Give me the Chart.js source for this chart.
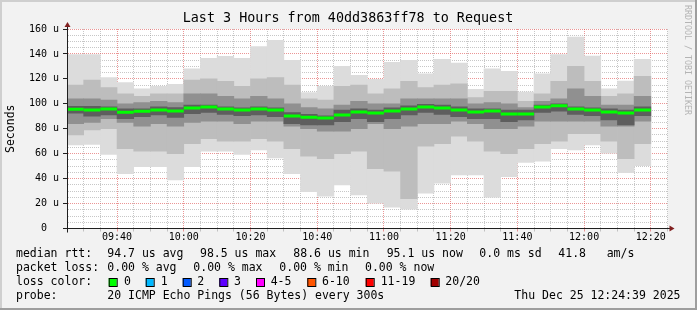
<!DOCTYPE html>
<html><head><meta charset="utf-8">
<script src="https://cdn.jsdelivr.net/npm/chart.js@4.4.1/dist/chart.umd.min.js"></script>
<style>html,body{margin:0;padding:0;background:#f2f2f2;}canvas{display:block;}</style>
</head><body>
<canvas id="c" width="697" height="310"></canvas>
<script>
// ---- data ----
const slotStarts = ['09:25','09:30','09:35','09:40','09:45','09:50','09:55','10:00','10:05','10:10','10:15','10:20','10:25','10:30','10:35','10:40','10:45','10:50','10:55','11:00','11:05','11:10','11:15','11:20','11:25','11:30','11:35','11:40','11:45','11:50','11:55','12:00','12:05','12:10','12:15'];
const maxV   = [139.5,139.5,121,117,112,114,115.6,128,136.4,138,136.4,146,151,134.8,109,114,130,122.8,119.6,133.2,134.8,124,135.6,132.6,111.6,128,126,109.5,124,139.5,153.5,138.3,112,118.3,135.6];
const hiB    = [115,119,113,108,106,108,108,119,120,118,114,120,121,115,104,103,114,115,108,112,118,113,115,116,105,110,110,102,108,118,130,118,106,108,122];
const hiC    = [104,104,103,100,101,102,101,108,108,106,104,106,104,100,97,96,99,102,100,100,104,104,104,104,100,101,100,97,102,104,112,106,99,99,106];
const hiD    = [98,98,97.6,96,96,97.6,97,99,99,97.6,96.8,97.6,96.8,93,91.5,90.4,95,96,95,96.8,98.4,99.5,99,97.6,96,96,95,95,99,100,97.6,96.8,96,95,97.6];
const median = [95.6,95.1,95.9,93.2,94,95,94.3,96.7,97.5,95.9,95.1,95.9,95.1,90.3,89.2,88.6,91.1,93.5,92.7,94.3,95.9,97.5,96.7,95.1,93.5,94.3,91.9,91.9,97.5,98.5,95.9,95.1,93.5,92.7,95.1];
const loD    = [92.5,90,91,88,89.6,91,89,92,93,91.5,90.4,91,89.6,84,83,83,85.6,88,85.6,88,91,93,91.5,89.6,88,88,85.6,87,93,94,91.5,90.4,87,83,90.4];
const loC    = [84,85,88,85,82,84,82,85,86,86,84,86,86,82,80,78,78,80,84,80,82,84,84,86,84,80,80,82,86,86,86,86,82,82,86];
const loB    = [75,79,80,64,62,62,60,68,72,70,70,72,70,64,58,56,60,62,48,46,24,66,68,74,70,62,60,64,68,70,76,76,70,56,68];
const minV   = [67,67.5,59.5,44,49.5,49.5,39,49.5,62,62,59.5,63,56.7,44,29.5,26,35,27,20.4,17.2,15.6,28.4,36.4,43,43,25.2,41.5,53,54,64,63,67,60.5,44.8,50.4];
const axisStartLabel = '09:25', axisEndLabel = '12:25';
const yMax = 160;

const titleText = 'Last 3 Hours from 40dd3863ff78 to Request';
const yTitle = 'Seconds';
const watermark = 'RRDTOOL / TOBI OETIKER';
const rttLabel = 'median rtt:';
const rttStats = ['94.7 us avg','98.5 us max','88.6 us min','95.1 us now','0.0 ms sd','41.8','am/s'];
const lossLabel = 'packet loss:';
const lossStats = ['0.00 % avg','0.00 % max','0.00 % min','0.00 % now'];
const lossColorLabel = 'loss color:';
const lossBins = ['0','1','2','3','4-5','6-10','11-19','20/20'];
const lossColors = ['#00ff00','#00b8ff','#0059ff','#5e00ff','#ff00ff','#ff5500','#ff0000','#a10000'];
const probeLabel = 'probe:';
const probeText = '20 ICMP Echo Pings (56 Bytes) every 300s';
const stamp = 'Thu Dec 25 12:24:39 2025';

// ---- styling / layout ----
const FONT = '"DejaVu Sans Mono", monospace';
const BACK = '#f2f2f2', SHADEA = '#cfcfcf', SHADEB = '#9e9e9e';
const GRID = 'rgba(143,143,143,0.5)', MGRID = 'rgba(222,79,79,0.6)';
const AXIS = '#1f1f1f', ARROW = '#801f1f';
const STEP = 5;
function toMin(s){ const p = s.split(':').map(Number); return p[0]*60 + p[1]; }
function fmt(v){ const h = Math.floor(v/60), m = v % 60; return String(h).padStart(2,'0') + ':' + String(m).padStart(2,'0'); }
const centers = slotStarts.map(s => toMin(s) + STEP/2);
function band(lo, hi){ return centers.map((x,i) => ({x, y:[lo[i], hi[i]]})); }
function halfSlot(chart){ const xs = chart.scales && chart.scales.x; return xs ? (xs.getPixelForValue(STEP) - xs.getPixelForValue(0))/2 : 8.3; }

const rttX = [107.3,200,293.3,386.7,479.3,558.3,606.7];
const lossX = [107.3,193.3,279.3,365];
const boxX = [108.7,145.7,182.7,219.3,256,307.3,365.7,430.7];
const binX = [124,160.7,197.3,234,270.7,322,380.7,445.3];

const deco = {
  id: 'deco',
  beforeDraw(chart){
    const c = chart.ctx, a = chart.chartArea, W = chart.width, H = chart.height;
    c.save();
    c.fillStyle = BACK; c.fillRect(0,0,W,H);
    c.fillStyle = SHADEA; c.fillRect(0,0,W,2); c.fillRect(0,0,2,H);
    c.fillStyle = SHADEB; c.fillRect(0,H-2,W,2); c.fillRect(W-2,0,2,H);
    c.fillStyle = '#ffffff'; c.fillRect(a.left, a.top, a.right-a.left, a.bottom-a.top);
    c.restore();
  },
  afterDraw(chart){
    const c = chart.ctx, a = chart.chartArea;
    c.save();
    const xo = Math.round(a.left) + 0.5, yo = Math.round(a.bottom) - 0.5;
    c.strokeStyle = AXIS; c.lineWidth = 1;
    c.beginPath(); c.moveTo(a.left - 4, yo); c.lineTo(a.right + 4, yo); c.stroke();
    c.beginPath(); c.moveTo(xo, a.bottom + 4); c.lineTo(xo, a.top - 4); c.stroke();
    c.fillStyle = ARROW;
    c.beginPath(); c.moveTo(a.right + 2, yo - 3); c.lineTo(a.right + 2, yo + 3); c.lineTo(a.right + 7, yo); c.closePath(); c.fill();
    c.beginPath(); c.moveTo(xo - 3, a.top - 2); c.lineTo(xo + 3, a.top - 2); c.lineTo(xo, a.top - 7); c.closePath(); c.fill();
    c.fillStyle = '#000'; c.textBaseline = 'middle';
    c.font = '13.4px ' + FONT; c.textAlign = 'center';
    c.fillText(titleText, 348, 18.5);
    c.save(); c.translate(687.5, 60); c.rotate(Math.PI/2);
    c.font = '8.3px ' + FONT; c.fillStyle = '#b4b4b4'; c.textAlign = 'center';
    c.fillText(watermark, 0, 0); c.restore();
    c.font = '11.5px ' + FONT; c.textAlign = 'left'; c.fillStyle = '#000';
    const y1 = 254, y2 = 268, y3 = 282, y4 = 296;
    c.fillText(rttLabel, 16, y1);
    rttStats.forEach((t,i) => c.fillText(t, rttX[i], y1));
    c.fillText(lossLabel, 16, y2);
    lossStats.forEach((t,i) => c.fillText(t, lossX[i], y2));
    c.fillText(lossColorLabel, 16, y3);
    lossBins.forEach((t,i) => {
      c.fillStyle = lossColors[i]; c.fillRect(boxX[i], y3 - 4, 8, 8);
      c.strokeStyle = '#000'; c.lineWidth = 1; c.strokeRect(boxX[i] + 0.5, y3 - 3.5, 8, 8);
      c.fillStyle = '#000'; c.fillText(t, binX[i], y3);
    });
    c.fillText(probeLabel, 16, y4);
    c.fillText(probeText, 107.3, y4);
    c.textAlign = 'right'; c.fillText(stamp, 680.5, y4);
    c.restore();
  }
};

const isMajor = c => c.tick && c.tick.value % 20 === 0;
const barOpts = { grouped:false, barPercentage:1, categoryPercentage:1 };

new Chart(document.getElementById('c'), {
  type: 'bar',
  data: { datasets: [
    { type:'line', label:'median', data: centers.map((x,i) => ({x, y: median[i]})), showLine:false,
      pointStyle:'line', pointRadius: c => halfSlot(c.chart), pointBorderWidth:3, pointBorderColor:'#00ff00',
      pointBackgroundColor:'#00ff00', order:0 },
    Object.assign({ label:'core',  data: band(loD, hiD),   backgroundColor:'#5e5e5e', order:1 }, barOpts),
    Object.assign({ label:'inner', data: band(loC, hiC),   backgroundColor:'#909090', order:2 }, barOpts),
    Object.assign({ label:'mid',   data: band(loB, hiB),   backgroundColor:'#bdbdbd', order:3 }, barOpts),
    Object.assign({ label:'outer', data: band(minV, maxV), backgroundColor:'#dcdcdc', order:4 }, barOpts)
  ]},
  options: {
    responsive:false, animation:false, events:[],
    layout: { padding: { top:29, right:29.5, left:0, bottom:0 } },
    plugins: { legend:{display:false}, tooltip:{enabled:false}, title:{display:false} },
    scales: {
      x: {
        type:'linear', offset:false, min: toMin(axisStartLabel), max: toMin(axisEndLabel), z:1,
        afterFit: s => { s.height = 81.5; },
        ticks: { stepSize: STEP, autoSkip:false, maxRotation:0, minRotation:0, maxTicksLimit:1000, padding:0,
                 color:'#000', font:{family:FONT, size:10}, callback: v => v % 20 === 0 ? fmt(v) : '' },
        grid: { offset:false, color: c => isMajor(c) ? MGRID : GRID, tickColor: c => isMajor(c) ? MGRID : GRID, tickLength:3, lineWidth:1 },
        border: { color: AXIS, width:1, dash:[1,1] }
      },
      y: {
        min:0, max:yMax, z:1,
        afterFit: s => { s.width = 67; },
        ticks: { stepSize:5, autoSkip:false, maxTicksLimit:1000, padding:4, color:'#000', font:{family:FONT, size:10},
                 callback: v => v % 20 === 0 ? (v === 0 ? '0  ' : v + ' u') : '' },
        grid: { color: c => isMajor(c) ? MGRID : GRID, tickColor: c => isMajor(c) ? AXIS : 'rgba(0,0,0,0)', tickLength:4, lineWidth:1 },
        border: { color: AXIS, width:1, dash:[1,1] },
        title: { display:true, text:yTitle, color:'#000', font:{family:FONT, size:11.5}, padding:{top:4, bottom:0} }
      }
    }
  },
  plugins: [deco]
});
</script>
</body></html>
